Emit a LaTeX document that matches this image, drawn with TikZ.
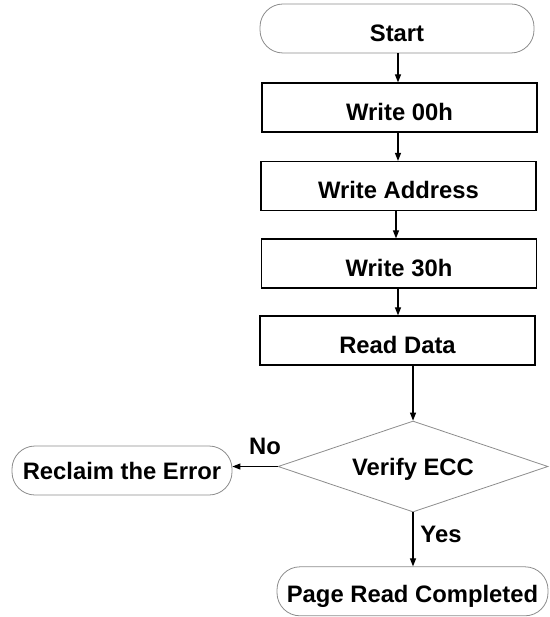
\documentclass[tikz,border=0pt]{standalone}
\usepackage{fontspec}
\setmainfont{Liberation Sans}
\usetikzlibrary{shapes.geometric,arrows.meta}
\begin{document}
\begin{tikzpicture}[x=1pt,y=-1pt,
  every node/.style={font=\fontsize{23.8}{28}\selectfont\bfseries, inner sep=0pt, text height=17pt, text depth=0pt},
  term/.style={draw=black!45, line width=0.8pt, rounded corners=23pt, minimum width=#1, minimum height=49pt},
  proc/.style={draw=black, line width=1.2pt, minimum width=275pt, minimum height=49pt, text height=26pt},
  dec/.style={diamond, draw=black!45, line width=0.8pt, minimum width=270pt, minimum height=91pt},
  arr/.style={draw=black, line width=1.1pt, -{Triangle[length=8pt,width=6pt]}},
  lbl/.style={}
]
\useasboundingbox (0,0) rectangle (549,617);
\node[term=274pt, text height=27pt] (start) at (397,28.5) {Start};
\node[proc] (w00) at (399.5,107.5) {Write 00h};
\node[proc] (waddr) at (398.5,186) {Write Address};
\node[proc] (w30) at (399,263.5) {Write 30h};
\node[proc] (read) at (397.5,340.5) {Read Data};
\node[dec, shape aspect=3] (dia) at (413,466.5) {};
\node (ecc) at (dia.center) {Verify ECC};
\node[term=220pt] (reclaim) at (122,470.5) {Reclaim the Error};
\node[term=271pt, text height=23pt] (page) at (412.5,591.3) {Page Read Completed};
\node[lbl] (no) at (265,445.5) {No};
\node[lbl] (yes) at (441,534) {Yes};
\coordinate (c1) at (398,0);
\coordinate (c2) at (396,0);
\draw[arr] (start.south -| c1) -- (w00.north -| c1);
\draw[arr] (w00.south -| c1) -- (waddr.north -| c1);
\draw[arr] (waddr.south -| c2) -- (w30.north -| c2);
\draw[arr] (w30.south -| c1) -- (read.north -| c1);
\draw[arr] (read.south -| dia.north) -- (dia.north);
\draw[arr] (dia.west) -- (dia.west -| reclaim.east);
\draw[arr] (dia.south) -- (page.north -| dia.south);
\end{tikzpicture}
\end{document}
